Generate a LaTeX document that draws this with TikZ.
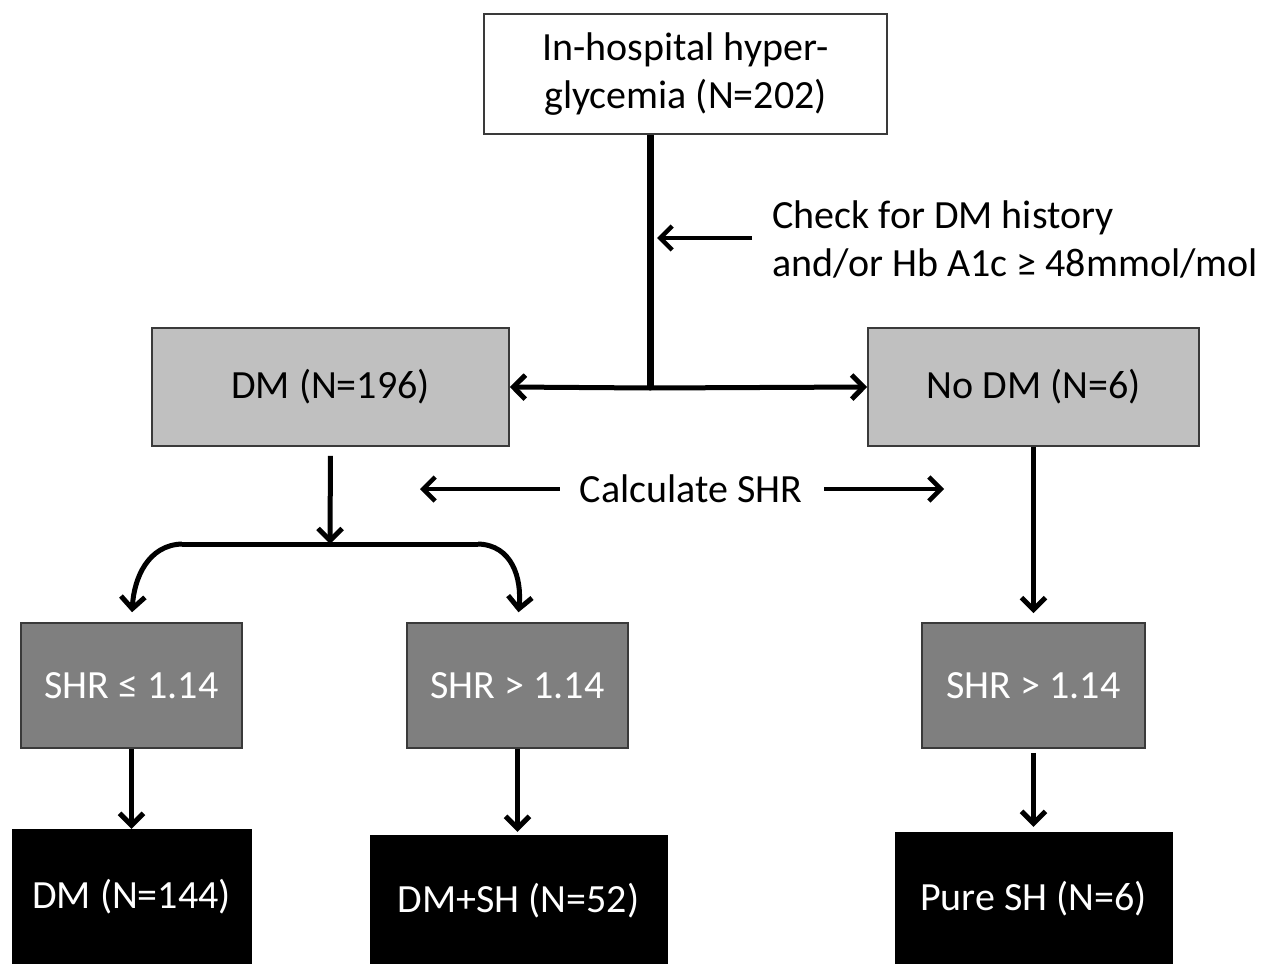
\documentclass[tikz,border=0pt]{standalone}
\usepackage{fontspec}
\setmainfont{Carlito}
\usetikzlibrary{arrows.meta}
\definecolor{lightbox}{HTML}{C0C0C0}
\definecolor{midbox}{HTML}{7F7F7F}
\definecolor{edgegray}{HTML}{3A3A3A}
\begin{document}
\begin{tikzpicture}[x=1pt,y=-1pt,
  txt/.style={font=\fontsize{40}{48}\selectfont},
  whitebox/.style={txt,draw=edgegray,line width=1.6pt,fill=white,align=center,inner sep=0pt},
  lightnode/.style={txt,draw=edgegray,line width=1.6pt,fill=lightbox,inner sep=0pt},
  midnode/.style={txt,draw=edgegray,line width=1.6pt,fill=midbox,text=white,inner sep=0pt},
  blacknode/.style={txt,draw=black,fill=black,text=white,inner sep=0pt},
  conn/.style={line width=5pt,-{Straight Barb[length=12pt,width=24pt]}},
  plain/.style={line width=5pt}
]
\useasboundingbox (0,0) rectangle (1264,964);
\fill[white] (0,0) rectangle (1264,964);

% boxes
\node[whitebox,minimum width=403pt,minimum height=120pt] (top) at (685.5,74) {In-hospital hyper-\\glycemia (N=202)};
\node[lightnode,minimum width=357pt,minimum height=118pt] (dm) at (330.5,387) {DM (N=196)};
\node[lightnode,minimum width=331pt,minimum height=118pt] (nodm) at (1033.5,387) {No DM (N=6)};
\node[midnode,minimum width=221pt,minimum height=125pt] (shr1) at (131.5,685.5) {SHR ≤ 1.14};
\node[midnode,minimum width=221pt,minimum height=125pt] (shr2) at (517.5,685.5) {SHR > 1.14};
\node[midnode,minimum width=223pt,minimum height=125pt] (shr3) at (1033.5,685.5) {SHR > 1.14};
\node[blacknode,minimum width=239pt,minimum height=136pt] (b1) at (131.5,897) {DM (N=144)};
\node[blacknode,minimum width=297pt,minimum height=132pt] (b2) at (518.5,901) {DM+SH (N=52)};
\node[blacknode,minimum width=277pt,minimum height=134pt] (b3) at (1033.5,899) {Pure SH (N=6)};

% labels
\node[txt,align=left,anchor=west,inner sep=0pt] (check) at (772,239) {Check for DM history\\and/or Hb A1c ≥ 48mmol/mol};
\node[txt,inner sep=0pt] (calc) at (691,489) {Calculate SHR};

% top split
\coordinate (j) at (650,388);
\draw[line width=7pt] (top.south -| j) -- (j);
\draw[conn] (j) -- (dm.east);
\draw[conn] (j) -- (nodm.west);
\coordinate (c1) at (752,238);
\coordinate (c2) at (657,238);
\draw[conn,line width=4.5pt] (c1) -- (c2);

% calculate SHR arrows
\coordinate (cl) at (420,489);
\coordinate (cr) at (944,489);
\draw[conn,line width=4.5pt,shorten <=20pt] (calc.west) -- (cl);
\draw[conn,line width=4.5pt,shorten <=22pt] (calc.east) -- (cr);

% DM down to bracket
\coordinate (br) at (330,544);
\draw[conn,shorten <=9pt] (dm.south) -- (br);
\coordinate (bl) at (182,544);
\coordinate (brr) at (478,544);
\draw[plain] (bl) -- (brr);
\draw[conn,shorten >=10pt] (bl) .. controls (148,545) and (134,578) .. (shr1.north);
\draw[conn,shorten >=10pt] (brr) .. controls (512,545) and (522,578) .. (shr2.north);

% No DM down
\draw[conn,shorten >=9pt] (nodm.south) -- (shr3.north);

% SHR to result
\draw[conn] (shr1.south) -- (b1.north);
\draw[conn,shorten >=3pt] (shr2.south) -- (b2.north -| shr2.south);
\draw[conn,shorten <=4pt,shorten >=5pt] (shr3.south) -- (b3.north);
\end{tikzpicture}
\end{document}
